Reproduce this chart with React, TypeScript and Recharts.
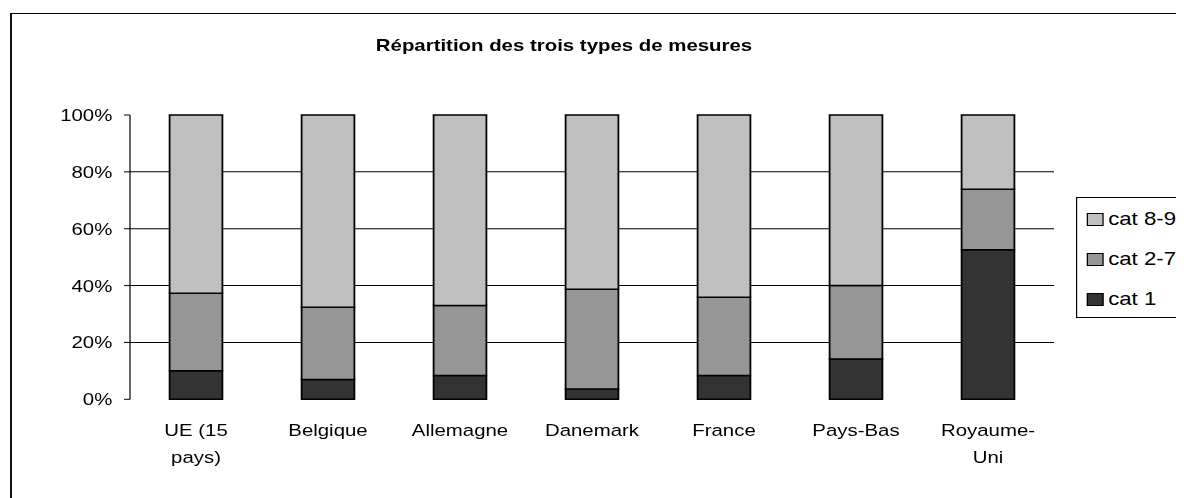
import React from 'react';
import { BarChart, Bar, XAxis, YAxis, CartesianGrid, Legend } from 'recharts';

const categories = ['UE (15 pays)', 'Belgique', 'Allemagne', 'Danemark', 'France', 'Pays-Bas', 'Royaume-Uni'];
const categoryLabelLines = [['UE (15', 'pays)'], ['Belgique'], ['Allemagne'], ['Danemark'], ['France'], ['Pays-Bas'], ['Royaume-', 'Uni']];
const cat1 = [10, 7, 8.4, 3.6, 8.4, 14.2, 52.6];
const cat27 = [27.3, 25.4, 24.6, 35.1, 27.5, 25.8, 21.3];
const cat89 = [62.7, 67.6, 67, 61.3, 64.1, 60, 26.1];
const seriesNames = ['cat 1', 'cat 2-7', 'cat 8-9'];
const seriesKeys = ['c1', 'c2', 'c3'];
const seriesColors = ['#333333', '#969696', '#C0C0C0'];
const yTicks = [0, 0.2, 0.4, 0.6, 0.8, 1];
const gridValues = [0.2, 0.4, 0.6, 0.8];
const edgeTicks = [0, 1, 2, 3, 4, 5, 6, 7];
const title = 'Répartition des trois types de mesures';

const data = categories.map((name, i) => ({ name, c1: cat1[i], c2: cat27[i], c3: cat89[i] }));

const FONT = '"Liberation Sans", Arial, sans-serif';
const SX = 1.2;

const CatTick = (props: any) => {
  const { x, y, index } = props;
  const lines = categoryLabelLines[index] || [String(props.payload?.value ?? '')];
  return (
    <text x={x} y={y} textAnchor="middle" fill="#000" fontSize={17} fontFamily={FONT}>
      {lines.map((l: string, i: number) => (
        <tspan key={i} x={x} dy={i === 0 ? 37 : 27}>{l}</tspan>
      ))}
    </text>
  );
};

const LegendContent = (props: any) => {
  const items = [...(props.payload || [])].reverse();
  return (
    <div style={{ width: 110, height: 121, boxSizing: 'border-box', border: '1px solid #000', background: '#fff', paddingTop: 1, fontFamily: FONT, fontSize: 18.5, color: '#000' }}>
      {items.map((it: any, i: number) => (
        <div key={i} style={{ display: 'flex', alignItems: 'center', height: 40, paddingLeft: 8 }}>
          <span style={{ display: 'inline-block', width: 13.8, height: 13, boxSizing: 'border-box', border: '1px solid #000', background: it.color, marginRight: 4 }} />
          <span style={{ lineHeight: '20px' }}>{it.value}</span>
        </div>
      ))}
    </div>
  );
};

export default function App() {
  return (
    <div style={{ position: 'relative', width: 1176, height: 490, overflow: 'hidden', background: '#fff' }}>
      <div style={{ position: 'absolute', left: 2, top: 5, width: 1300, height: 700, borderTop: '1px solid #000', borderLeft: '2px solid #111' }} />
      <div style={{ position: 'absolute', left: 0, top: 0, width: 980, height: 490, transform: `scaleX(${SX})`, transformOrigin: '0 0' }}>
        <div style={{ position: 'absolute', left: 0, top: 28, width: 926.7, textAlign: 'center', fontFamily: FONT, fontWeight: 'bold', fontSize: 17, lineHeight: '20px', color: '#000' }}>
          {title}
        </div>
        <BarChart
          width={980}
          height={490}
          data={data}
          stackOffset="expand"
          barCategoryGap="30%"
          margin={{ top: 107, right: 108.33, bottom: 38.7, left: 41.67 }}
        >
          <XAxis
            xAxisId="edge"
            type="number"
            domain={[0, categories.length]}
            ticks={edgeTicks}
            allowDataOverflow
            height={0}
            tickSize={6}
            tickFormatter={() => ''}
            axisLine={{ stroke: '#000' }}
            tickLine={{ stroke: '#000' }}
          />
          <XAxis
            xAxisId="cat"
            dataKey="name"
            type="category"
            height={60}
            tickSize={0}
            tickMargin={0}
            axisLine={false}
            tickLine={false}
            interval={0}
            tick={<CatTick />}
          />
          <YAxis
            type="number"
            domain={[0, 1]}
            ticks={yTicks}
            width={60}
            tickSize={5}
            tickMargin={9.75}
            axisLine={{ stroke: '#000' }}
            tickLine={{ stroke: '#000' }}
            tick={{ fill: '#000', fontSize: 17, fontFamily: FONT }}
            tickFormatter={(v: number) => `${Math.round(v * 100)}%`}
          />
          <CartesianGrid xAxisId="cat" vertical={false} horizontalValues={gridValues} stroke="#000" />
          {seriesKeys.map((k, i) => (
            <Bar
              key={k}
              xAxisId="cat"
              dataKey={k}
              name={seriesNames[i]}
              stackId="s"
              fill={seriesColors[i]}
              stroke="#000"
              strokeWidth={1.5}
              isAnimationActive={false}
            />
          ))}
          <Legend
            layout="horizontal"
            verticalAlign="middle"
            align="center"
            content={<LegendContent />}
            wrapperStyle={{ left: 890, top: 189, width: 110, height: 121 }}
          />
        </BarChart>
      </div>
    </div>
  );
}
